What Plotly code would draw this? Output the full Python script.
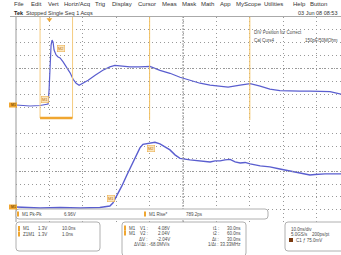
import plotly.graph_objects as go

# ---------------- data ----------------
# Main window M1 (10 ns/div) : time in ns, voltage in V
main_t_ns = [-10.0, -5.8, -2.8, -1.3, -0.4, -0.1, 0.2, 0.5, 0.8, 1.1, 1.4, 2.0, 2.6, 3.2,
             4.1, 5.3, 6.2, 7.1, 8.0, 8.9, 10.1, 11.6, 13.7, 16.0, 18.1, 19.6, 21.1, 24.1,
             27.1, 30.1, 33.1, 36.1, 39.1, 42.1, 45.1, 48.1, 51.1, 53.5, 57.1, 60.1, 63.1,
             66.0, 69.0, 72.0, 75.0, 78.0, 81.0, 84.0, 87.3]
main_v = [0.0, -0.1, -0.05, 0.0, 0.1, 1.5, 4.5, 6.05, 6.55, 6.35, 5.55, 5.05, 4.85, 4.75,
          4.35, 3.75, 3.25, 2.6, 2.2, 2.0, 2.2, 2.5, 3.0, 3.5, 3.85, 4.0, 3.95, 3.85,
          3.85, 3.9, 3.5, 3.2, 2.8, 2.5, 2.2, 2.0, 1.85, 1.8, 2.0, 2.15, 1.9,
          1.6, 1.45, 1.4, 1.4, 1.4, 1.35, 1.35, 1.1]

# Zoom window Z1M1 (1 ns/div)
zoom_t_ns = [-2.80, -2.08, -1.48, -0.88, -0.29, -0.11, 0.01, 0.10, 0.22, 0.37, 0.52, 0.61,
             0.76, 0.91, 1.00, 1.21, 1.36, 1.51, 1.66, 1.81, 1.96, 2.11, 2.41, 2.71, 3.01,
             3.16, 3.31, 3.46, 3.61, 3.76, 3.91, 4.06, 4.21, 4.51, 4.80, 5.10, 5.40, 5.61,
             5.85, 6.00, 6.15, 6.45, 6.93]
zoom_v = [0.0, -0.10, -0.05, -0.10, -0.05, 0.0, 0.10, 0.41, 1.14, 2.17, 3.30, 3.92,
          5.06, 6.09, 6.45, 6.60, 6.66, 6.50, 6.19, 5.88, 5.37, 5.01, 4.85, 4.75, 4.64,
          4.75, 4.75, 4.85, 4.90, 4.64, 4.54, 4.59, 4.44, 4.23, 4.13, 3.92, 3.72, 3.56,
          3.46, 3.30, 3.35, 3.41, 3.41]

cursor_t_ns = [30.0, 60.0]
volts_per_div = 1.3
main_ns_per_div = 10.0
zoom_ns_per_div = 1.0

menu_items = ["File", "Edit", "Vert", "Horiz/Acq", "Trig", "Display", "Cursor", "Meas",
              "Mask", "Math", "App", "MyScope", "Utilities", "Help", "Button"]
menu_x = [12, 29, 46, 62, 93, 110, 136, 160, 180, 199, 218, 234, 262, 291, 308]

W, H = 341, 255
def px(x): return x / W
def py(y): return 1 - y / H

BLUE = "#5a5ecf"
ORANGE = "#f0a630"
GRID = "#999999"
TXT = "#4a4a4a"
FONT = "Liberation Sans"

main_range = [-10.0, 87.3]
zoom_range = [-2.8, 6.93]
main_yr = [-1.515, 8.885]
zoom_yr = [-1.545, 8.857]

fig = go.Figure()
fig.add_trace(go.Scatter(x=main_t_ns, y=main_v, mode="lines",
                         line=dict(color=BLUE, width=1.2), xaxis="x", yaxis="y",
                         hoverinfo="skip"))
fig.add_trace(go.Scatter(x=zoom_t_ns, y=zoom_v, mode="lines",
                         line=dict(color=BLUE, width=1.4), xaxis="x2", yaxis="y2",
                         hoverinfo="skip"))
# trigger marker
fig.add_trace(go.Scatter(x=[0], y=[main_yr[1] - 0.25], mode="markers",
                         marker=dict(symbol="triangle-down", size=5, color=ORANGE),
                         xaxis="x", yaxis="y", hoverinfo="skip"))

ax_common = dict(showticklabels=False, zeroline=False, showline=False, ticks="",
                 showgrid=True, gridcolor=GRID, gridwidth=1, griddash="1px,3px",
                 fixedrange=True)

fig.update_layout(
    width=W, height=H, margin=dict(l=0, r=0, t=0, b=0),
    paper_bgcolor="white", plot_bgcolor="white", showlegend=False,
    xaxis=dict(domain=[px(16), 1], range=main_range, tick0=main_range[0],
               dtick=main_ns_per_div, anchor="y", **ax_common),
    yaxis=dict(domain=[py(120), py(17)], range=main_yr, tick0=main_yr[0],
               dtick=volts_per_div, anchor="x", **ax_common),
    xaxis2=dict(domain=[px(16), 1], range=zoom_range, tick0=zoom_range[0],
                dtick=zoom_ns_per_div, anchor="y2", **ax_common),
    yaxis2=dict(domain=[py(222), py(121)], range=zoom_yr, tick0=zoom_yr[0],
                dtick=volts_per_div, anchor="x2", **ax_common),
)

shapes = []
# left border of graticule
shapes.append(dict(type="line", xref="paper", yref="paper", x0=px(16), x1=px(16),
                   y0=py(222), y1=py(17), line=dict(color="#999999", width=1)))
# title underline
shapes.append(dict(type="line", xref="paper", yref="paper", x0=px(10), x1=1,
                   y0=py(16.5), y1=py(16.5), line=dict(color="#aaaaaa", width=1)))
# center lines
for xr, yr, trng, yrng in [("x", "y", main_range, main_yr), ("x2", "y2", zoom_range, zoom_yr)]:
    tc = trng[0] + 5 * (main_ns_per_div if xr == "x" else zoom_ns_per_div)
    vc = yrng[0] + 4 * volts_per_div
    shapes.append(dict(type="line", xref=xr, yref=yr, x0=tc, x1=tc, y0=yrng[0], y1=yrng[1],
                       line=dict(color="#999999", width=1, dash="2px,1px")))
    shapes.append(dict(type="line", xref=xr, yref=yr, x0=trng[0], x1=trng[1], y0=vc, y1=vc,
                       line=dict(color="#999999", width=1, dash="1px,2px")))
# time cursors
for tc in cursor_t_ns:
    shapes.append(dict(type="line", xref="x", yref="y", x0=tc, x1=tc, y0=main_yr[0],
                       y1=main_yr[1], line=dict(color="#f2c060", width=1)))
# zoom box in main window
for tz in zoom_range:
    shapes.append(dict(type="line", xref="x", yref="y", x0=tz, x1=tz, y0=main_yr[0] + 0.2,
                       y1=main_yr[1], line=dict(color="#f5cc80", width=1)))
shapes.append(dict(type="line", xref="x", yref="y", x0=zoom_range[0], x1=zoom_range[1],
                   y0=main_yr[0] + 0.2, y1=main_yr[0] + 0.2,
                   line=dict(color=ORANGE, width=2.5)))

def rbox(x0, y0, x1, y1, r=3):
    X0, X1 = px(x0), px(x1)
    Y0, Y1 = py(y0), py(y1)
    rx, ry = r / W, r / H
    p = (f"M {X0+rx},{Y0} L {X1-rx},{Y0} Q {X1},{Y0} {X1},{Y0-ry} "
         f"L {X1},{Y1+ry} Q {X1},{Y1} {X1-rx},{Y1} L {X0+rx},{Y1} "
         f"Q {X0},{Y1} {X0},{Y1+ry} L {X0},{Y0-ry} Q {X0},{Y0} {X0+rx},{Y0} Z")
    return dict(type="path", xref="paper", yref="paper", path=p,
                line=dict(color="#b0b0b0", width=1), fillcolor="white")

shapes.append(rbox(16, 209, 268, 219))
shapes.append(rbox(16, 222, 100, 251))
shapes.append(rbox(122, 222, 246, 256))
shapes.append(rbox(285, 222, 345, 251))

# small orange marks
def omark(x, y, w=2, h=5, color=ORANGE):
    return dict(type="rect", xref="paper", yref="paper", x0=px(x), x1=px(x + w),
                y0=py(y + h / 2), y1=py(y - h / 2), line=dict(width=0), fillcolor=color)
for (mx, my) in [(17, 214), (144, 214), (18, 228.5), (18, 234), (124, 228), (124, 233)]:
    shapes.append(omark(mx, my))
shapes.append(omark(289, 240, w=4, h=4, color="#7a3a10"))
# ground markers
shapes.append(omark(9, 105, w=8, h=5))
shapes.append(omark(9, 207, w=8, h=5))
fig.update_layout(shapes=shapes)

ann = []
def txt(x, y, s, size=5, color=TXT, anchor="left", bold=False, **kw):
    ann.append(dict(x=px(x), y=py(y), xref="paper", yref="paper", text=(f"<b>{s}</b>" if bold else s),
                    showarrow=False, xanchor=anchor, yanchor="middle",
                    font=dict(family=FONT, size=size, color=color), **kw))

for m, mx in zip(menu_items, menu_x):
    txt(mx, 4, m, size=6, color="#333333")
txt(12, 12.5, "Tek", size=5.5, color="#222222", bold=True)
txt(24, 12.5, "Stopped Single Seq 1 Acqs", size=5.5, color="#333333")
txt(339, 12.5, "03 Jun 08 08:53", size=5.5, color="#333333", anchor="right")
txt(252, 33, "DIV Position for Correct", size=4.5)
txt(252, 41, "Cal Curs4", size=4.5)
txt(340, 41, "150pF/50MOhm", size=4.5, anchor="right")

# measurement labels
for (lx, ly, s) in [(57, 45, "M2"), (41, 100, "M1"), (107, 202, "M1"), (151, 148, "M2")]:
    ann.append(dict(x=px(lx), y=py(ly), xref="paper", yref="paper", text=s, showarrow=False,
                    font=dict(family=FONT, size=4, color="#c07010"), bgcolor="#fbe6bd",
                    bordercolor="#e9a840", borderwidth=0.5, borderpad=0.5))
# ground labels
txt(13, 105, "M1", size=3.5, color="#553300", anchor="center")
txt(13, 207, "M1", size=3.5, color="#553300", anchor="center")

txt(20, 214, "M1 Pk-Pk", size=4.5)
txt(62, 214, "6.96V", size=4.5)
txt(147, 214, "M1 Rise*", size=4.5)
txt(184, 214, "789.2ps", size=4.5)

txt(21, 228.5, "M1", size=4.5)
txt(36, 228.5, "1.3V", size=4.5)
txt(60, 228.5, "10.0ns", size=4.5)
txt(21, 234, "Z1M1", size=4.5)
txt(36, 234, "1.3V", size=4.5)
txt(60, 234, "1.0ns", size=4.5)

rows = [("M1", "V1 :", "4.08V", "t1 :", "30.0ns"),
        ("M1", "V2 :", "2.04V", "t2 :", "60.0ns"),
        ("", "ΔV :", "-2.04V", "Δt :", "30.0ns"),
        ("", "ΔV/Δt :", "-68.0MV/s", "1/Δt :", "33.33MHz")]
for i, (a, b, c, d, e) in enumerate(rows):
    yy = 228 + i * 5.5
    if a:
        txt(127, yy, a, size=4.5)
    txt(150, yy, b, size=4.5, anchor="right")
    txt(172, yy, c, size=4.5, anchor="right")
    txt(221, yy, d, size=4.5, anchor="right")
    txt(243, yy, e, size=4.5, anchor="right")

txt(289, 229, "10.0ns/div", size=4.5)
txt(289, 234.5, "5.0GS/s", size=4.5)
txt(310, 234.5, "200ps/pt", size=4.5)
txt(294, 240, "C1 ƒ 75.0mV", size=4.5)

fig.update_layout(annotations=ann)
fig.write_html("out.html", config={"displayModeBar": False, "staticPlot": True},
               post_script="document.body.style.margin='0';document.body.style.overflow='hidden';")
